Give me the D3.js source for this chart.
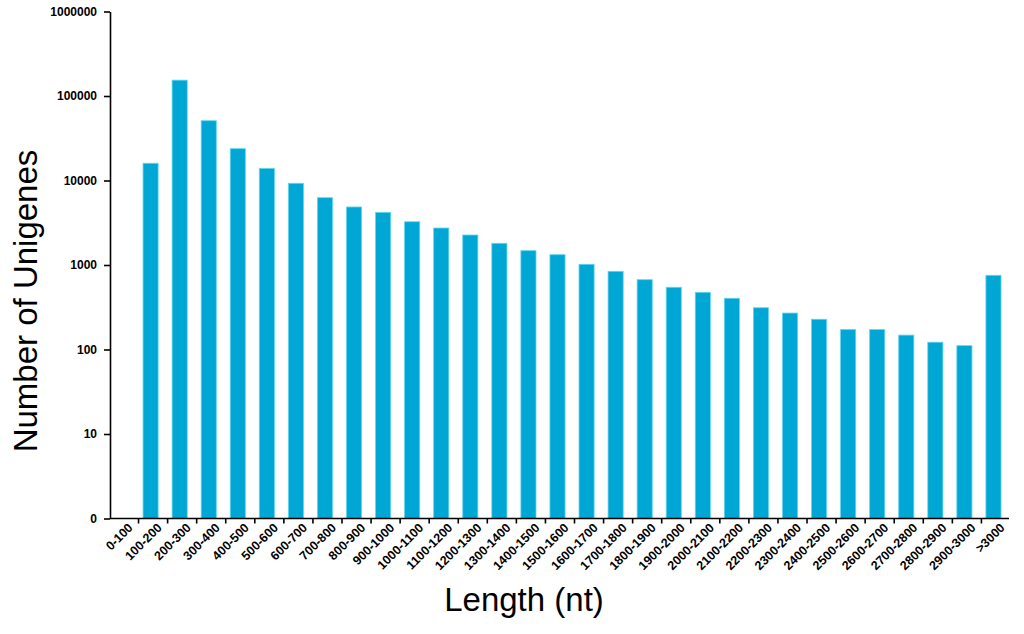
<!DOCTYPE html>
<html>
<head>
<meta charset="utf-8">
<script src="https://cdn.jsdelivr.net/npm/d3@7/dist/d3.min.js"></script>
<style>
  html, body { margin: 0; padding: 0; background: #fff; }
  svg { display: block; }
</style>
</head>
<body>
<svg id="chart" width="1024" height="634"></svg>
<script>
const categories = ["0-100","100-200","200-300","300-400","400-500","500-600","600-700","700-800","800-900","900-1000",
  "1000-1100","1100-1200","1200-1300","1300-1400","1400-1500","1500-1600","1600-1700","1700-1800","1800-1900","1900-2000",
  "2000-2100","2100-2200","2200-2300","2300-2400","2400-2500","2500-2600","2600-2700","2700-2800","2800-2900","2900-3000",">3000"];
const counts = [0,16000,154000,51000,23800,13900,9270,6260,4860,4200,
  3250,2740,2265,1806,1477,1324,1019,842,670,545,
  475,404,312,270,228,172,172,148,122,111,755];
const yTickValues = [1,10,100,1000,10000,100000,1000000];
const yTickLabels = ["0","10","100","1000","10000","100000","1000000"];
const xTitle = "Length (nt)";
const yTitle = "Number of Unigenes";

const svg = d3.select("#chart");
const axisX0 = 110, axisX1 = 1009, yTop = 11.5, yBottom = 518.5;

const x = d3.scaleBand().domain(categories).range([107, 1008]).paddingInner(0.48).paddingOuter(0.24);
const y = d3.scaleLog().domain([1, 1000000]).range([yBottom, yTop]);

// bars
svg.append("g").selectAll("rect")
  .data(categories.map((c, i) => ({c, v: counts[i]})).filter(d => d.v > 0))
  .join("rect")
  .attr("x", d => x(d.c))
  .attr("width", x.bandwidth())
  .attr("y", d => y(d.v))
  .attr("height", d => yBottom - y(d.v))
  .attr("fill", "#00a7d4")
  .attr("stroke", "#62d5ef")
  .attr("stroke-width", 0.8);

// y axis
const yAxis = d3.axisLeft(y)
  .tickValues(yTickValues)
  .tickFormat((d, i) => yTickLabels[i])
  .tickSize(6).tickSizeOuter(0).tickPadding(7);
const gy = svg.append("g").attr("transform", `translate(${axisX0},0)`).call(yAxis);
gy.select(".domain").attr("stroke", "#000").attr("stroke-width", 1.6);
gy.selectAll(".tick line").attr("stroke", "#000").attr("stroke-width", 1.6);
gy.selectAll(".tick text")
  .attr("fill", "#000")
  .style("font-family", "'Liberation Sans', Arial, sans-serif")
  .style("font-size", "12px").style("font-weight", "bold");

// x axis
const gx = svg.append("g");
gx.append("line").attr("x1", axisX0).attr("x2", axisX1).attr("y1", yBottom).attr("y2", yBottom)
  .attr("stroke", "#000").attr("stroke-width", 1.6);
gx.selectAll("line.tk").data(categories.slice(1)).join("line").attr("class", "tk")
  .attr("x1", d => x(d) - 4.5).attr("x2", d => x(d) - 4.5)
  .attr("y1", yBottom).attr("y2", yBottom + 5)
  .attr("stroke", "#000").attr("stroke-width", 1.6);
gx.selectAll("text").data(categories).join("text")
  .attr("transform", d => `translate(${x(d) + x.bandwidth() / 2 + 12},${yBottom + 10}) rotate(-45)`)
  .attr("text-anchor", "end")
  .attr("fill", "#000")
  .style("font-family", "'Liberation Sans', Arial, sans-serif")
  .style("font-size", "12.5px").style("font-weight", "bold")
  .text(d => d);

// titles
svg.append("text")
  .attr("transform", "translate(37,301) rotate(-90)")
  .attr("text-anchor", "middle")
  .style("font-family", "'Liberation Sans', Arial, sans-serif")
  .style("font-size", "33px")
  .text(yTitle);
svg.append("text")
  .attr("x", 524).attr("y", 611)
  .attr("text-anchor", "middle")
  .style("font-family", "'Liberation Sans', Arial, sans-serif")
  .style("font-size", "33px")
  .text(xTitle);
</script>
</body>
</html>
